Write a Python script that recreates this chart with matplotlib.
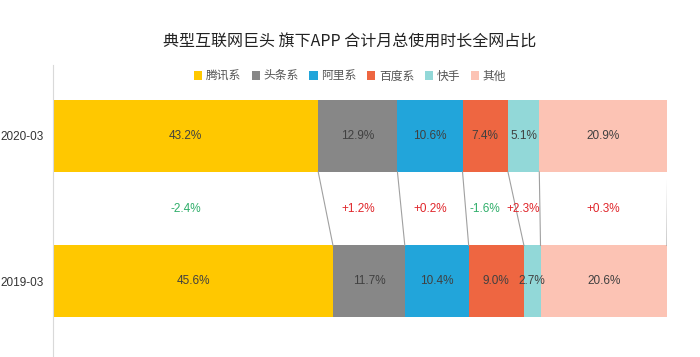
import numpy as np
import matplotlib
matplotlib.use('Agg')
import matplotlib.pyplot as plt
from matplotlib.patches import Patch

plt.rcParams['font.family'] = ['Noto Sans CJK SC', 'DejaVu Sans']

periods = ['2020-03', '2019-03']
groups = ['腾讯系', '头条系', '阿里系', '百度系', '快手', '其他']
share_2020 = [43.2, 12.9, 10.6, 7.4, 5.1, 20.9]
share_2019 = [45.6, 11.7, 10.4, 9.0, 2.7, 20.6]
change_labels = ['-2.4%', '+1.2%', '+0.2%', '-1.6%', '+2.3%', '+0.3%']
colors = ['#FFC800', '#878787', '#22A5DA', '#EE6641', '#92D8D8', '#FCC3B4']

num_font = 'Liberation Sans'

fig = plt.figure(figsize=(7, 3.57), dpi=100)
ax = fig.add_axes([53 / 700, 0, 614 / 700, 292 / 357])

bar_h = 0.495
data = [share_2020, share_2019]
for yi, vals in enumerate(data):
    left = 0.0
    for v, c in zip(vals, colors):
        ax.barh(yi, v, left=left, height=bar_h, color=c, edgecolor='none')
        ax.text(left + v / 2, yi, f'{v:.1f}%', ha='center', va='center',
                fontsize=8.5, color='#404040', family=num_font)
        left += v

# connector lines between segment boundaries
top_edges = np.cumsum(share_2020)
bot_edges = np.cumsum(share_2019)
for a, b in zip(top_edges, bot_edges):
    ax.plot([a, b], [bar_h / 2, 1 - bar_h / 2], color='#a0a0a0', lw=0.8)

# change labels between bars
starts = np.concatenate([[0], top_edges[:-1]])
for s, v, lab in zip(starts, share_2020, change_labels):
    col = '#2fae6a' if lab.startswith('-') else '#e0262b'
    ax.text(s + v / 2, 0.5, lab, ha='center', va='center', fontsize=8.5,
            color=col, family=num_font)

ax.set_xlim(0, 100)
ax.set_ylim(1.519, -0.488)
ax.set_yticks([0, 1])
ax.set_yticklabels(periods, fontsize=8.5, color='#333333', family=num_font)
ax.tick_params(axis='y', length=0, pad=7)
ax.set_xticks([])
for side in ['top', 'right', 'bottom']:
    ax.spines[side].set_visible(False)
ax.spines['left'].set_color('#d9d9d9')
ax.spines['left'].set_linewidth(0.8)

fig.text(0.5, 1 - 42 / 357, '典型互联网巨头 旗下APP 合计月总使用时长全网占比',
         ha='center', va='center', fontsize=11.5, color='#222222')

handles = [Patch(facecolor=c, edgecolor='none') for c in colors]
fig.legend(handles, groups, loc='center', bbox_to_anchor=(0.5, 1 - 76 / 357),
           ncol=6, frameon=False, fontsize=8.5, handlelength=0.7, handleheight=0.7,
           handletextpad=0.3, columnspacing=0.9, labelcolor='#555555')

fig.savefig('out.png', dpi=100)
